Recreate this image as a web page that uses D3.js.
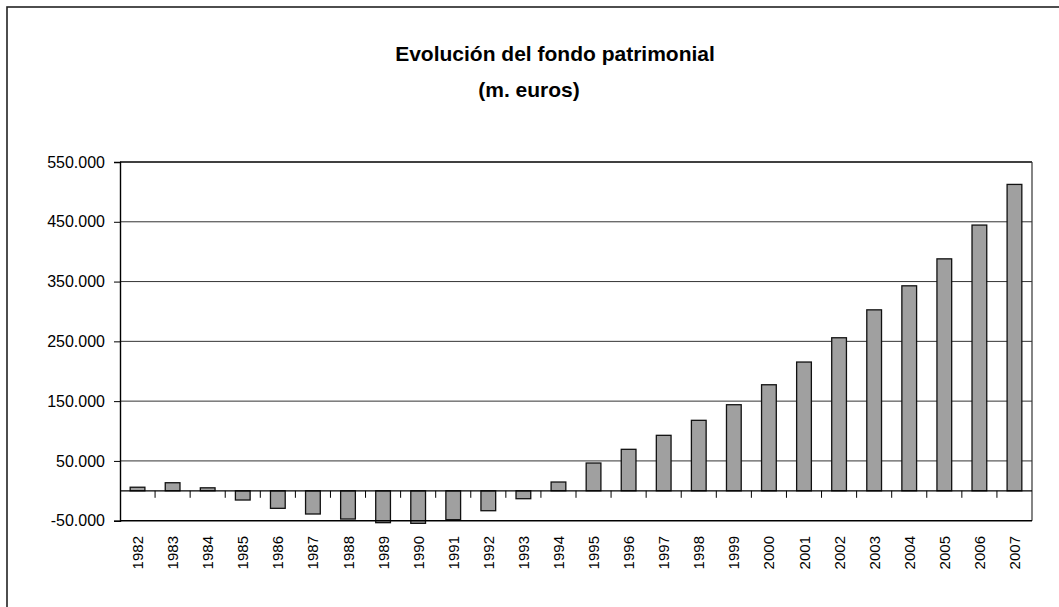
<!DOCTYPE html>
<html>
<head>
<meta charset="utf-8">
<script src="https://cdn.jsdelivr.net/npm/d3@7"></script>
<style>
  body { margin: 0; background: #fff; }
  svg text { font-family: "Liberation Sans", Arial, sans-serif; fill: #000; }
</style>
</head>
<body>
<div id="chart"></div>
<script>
var years = ['1982','1983','1984','1985','1986','1987','1988','1989','1990','1991','1992','1993','1994',
             '1995','1996','1997','1998','1999','2000','2001','2002','2003','2004','2005','2006','2007'];
var fondo = [6000, 13500, 5000, -15400, -29300, -38800, -47200, -53300, -54400, -48300, -33300, -13200, 14700,
             46500, 69400, 92800, 117900, 144000, 177400, 215400, 256000, 302700, 342900, 388000, 444500, 512500];
var yTicks = [-50000, 50000, 150000, 250000, 350000, 450000, 550000];
var titulo = 'Evolución del fondo patrimonial';
var subtitulo = '(m. euros)';

var width = 1059, height = 607;
var plot = { left: 120, top: 162, right: 1032, bottom: 520.7 };

var svg = d3.select('#chart').append('svg').attr('width', width).attr('height', height);

// outer chart border (only left/top visible)
svg.append('rect')
   .attr('x', 7).attr('y', 7).attr('width', 1200).attr('height', 800)
   .attr('fill', 'none').attr('stroke', '#222').attr('stroke-width', 1.6);

svg.append('text').attr('x', 555).attr('y', 61).attr('text-anchor', 'middle')
   .style('font-size', '21px').style('font-weight', 'bold').text(titulo);
svg.append('text').attr('x', 529).attr('y', 97).attr('text-anchor', 'middle')
   .style('font-size', '21px').style('font-weight', 'bold').text(subtitulo);

var x = d3.scaleBand().domain(years).range([plot.left, plot.right]);
var y = d3.scaleLinear().domain([-50000, 550000]).range([plot.bottom, plot.top]);

var es = d3.formatLocale({ decimal: ',', thousands: '.', grouping: [3], currency: ['', ' €'], minus: '-' });
var fmt = es.format(',');

// gridlines
svg.append('g').selectAll('line').data(yTicks.slice(1, -1)).enter().append('line')
   .attr('x1', plot.left).attr('x2', plot.right)
   .attr('y1', function(d) { return y(d); }).attr('y2', function(d) { return y(d); })
   .attr('stroke', '#333').attr('stroke-width', 1);

// bars
var barW = x.bandwidth() * 0.42;
svg.append('g').selectAll('rect').data(fondo).enter().append('rect')
   .attr('x', function(d, i) { return x(years[i]) + (x.bandwidth() - barW) / 2; })
   .attr('width', barW)
   .attr('y', function(d) { return y(Math.max(0, d)); })
   .attr('height', function(d) { return Math.abs(y(d) - y(0)); })
   .attr('fill', '#a0a0a0').attr('stroke', '#111').attr('stroke-width', 1.3);

// plot frame
svg.append('line').attr('x1', plot.left).attr('x2', plot.right).attr('y1', plot.top).attr('y2', plot.top)
   .attr('stroke', '#000').attr('stroke-width', 1.3);
svg.append('line').attr('x1', plot.right).attr('x2', plot.right).attr('y1', plot.top).attr('y2', plot.bottom)
   .attr('stroke', '#333').attr('stroke-width', 1.2);
svg.append('line').attr('x1', plot.left).attr('x2', plot.right).attr('y1', plot.bottom).attr('y2', plot.bottom)
   .attr('stroke', '#000').attr('stroke-width', 1.6);

// y axis
var yAxis = svg.append('g').attr('transform', 'translate(' + plot.left + ',0)')
   .call(d3.axisLeft(y).tickValues(yTicks).tickFormat(fmt).tickSize(6).tickPadding(9));
yAxis.select('.domain').attr('stroke', '#000').attr('stroke-width', 1.4);
yAxis.selectAll('.tick line').attr('stroke', '#000');
yAxis.selectAll('.tick text').style('font-size', '16px').attr('fill', '#000');

// category axis on zero line with ticks between categories
var y0 = y(0);
svg.append('line').attr('x1', plot.left).attr('x2', plot.right).attr('y1', y0).attr('y2', y0)
   .attr('stroke', '#000').attr('stroke-width', 1.3);
svg.append('g').selectAll('line').data(years.slice(1)).enter().append('line')
   .attr('x1', function(d) { return x(d); }).attr('x2', function(d) { return x(d); })
   .attr('y1', y0).attr('y2', y0 + 7)
   .attr('stroke', '#000').attr('stroke-width', 1);

// year labels, rotated
svg.append('g').selectAll('text').data(years).enter().append('text')
   .attr('transform', function(d) {
     return 'translate(' + (x(d) + x.bandwidth() / 2 + 5.5) + ',536) rotate(-90)';
   })
   .attr('text-anchor', 'end')
   .style('font-size', '15px')
   .text(function(d) { return d; });
</script>
</body>
</html>
